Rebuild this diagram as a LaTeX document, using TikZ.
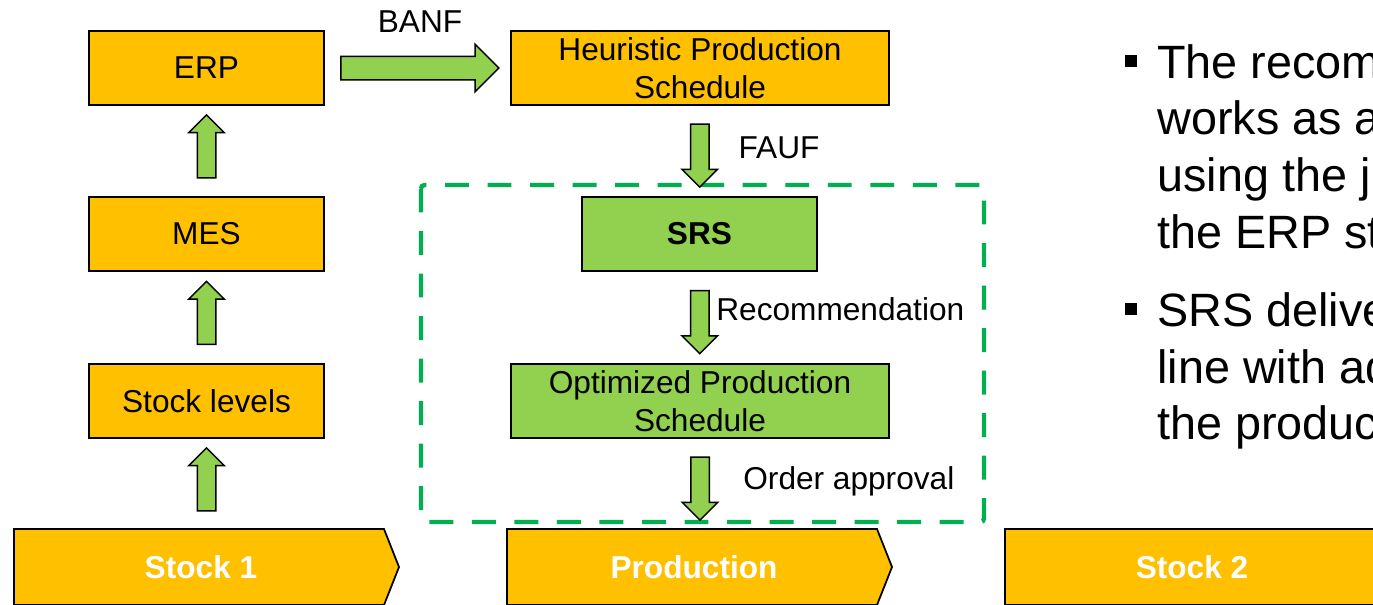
\documentclass[tikz,border=0pt]{standalone}
\usepackage{fontspec}
\setmainfont{Liberation Sans}
\usetikzlibrary{shapes.arrows}
\usetikzlibrary{calc}
\definecolor{boxorange}{HTML}{FFC000}
\definecolor{boxgreen}{HTML}{92D050}
\definecolor{framegreen}{HTML}{00B050}
\tikzset{
    box/.style={draw=black, line width=0.35mm, fill=boxorange, minimum width=4.7cm, minimum height=1.48cm, inner sep=0, align=center, font=\fontsize{18}{21.6}\selectfont},
    widebox/.style={box, minimum width=7.56cm},
    blockarrow/.style={single arrow, draw=black, line width=0.3mm, fill=boxgreen, inner xsep=0, inner ysep=0.17cm, minimum height=1.26cm, single arrow head extend=0.17cm, single arrow tip angle=90},
    chevron/.style={draw=black, line width=0.35mm, fill=boxorange},
    chevrontext/.style={text=white, font=\fontsize{18}{21.6}\selectfont\bfseries},
    lbl/.style={inner sep=0, font=\fontsize{18}{21.6}\selectfont},
    bullettext/.style={inner sep=0, align=left, anchor=north west, font=\fontsize{26.6}{32.3}\selectfont},
}
\newcommand{\drawchevron}[3]{
    \begin{scope}[shift={(#2)}]
        \draw [chevron] (0,0) -- (7.4,0) -- (7.7,-0.76) -- (7.4,-1.52) -- (0,-1.52) -- cycle;
        \coordinate (#1top) at (3.7,0);
        \node [chevrontext] (#1) at (3.74,-0.76) {#3};
    \end{scope}
}

\begin{document}
\begin{tikzpicture}
    \useasboundingbox (0,0) rectangle (27.46,-12.08);
    \clip (0,0) rectangle (27.46,-12.08);

    % left column
    \node [box] (erp) at (4.13,-1.36) {ERP};
    \node [box] (mes) at (4.13,-4.68) {MES};
    \node [box] (stocklevels) at (4.13,-8.02) {Stock levels};

    % middle column
    \node [widebox] (heuristic) at (14.0,-1.36) {Heuristic Production\\Schedule};
    \node [box, fill=boxgreen, font=\fontsize{18}{21.6}\selectfont\bfseries] (srs) at (13.99,-4.68) {SRS};
    \node [widebox, fill=boxgreen] (optimized) at (14.0,-8.02) {Optimized Production\\Schedule};
    \draw [framegreen, line width=2.5pt, dash pattern=on 13.6pt off 10.6pt, rounded corners=2pt] (8.42,-3.70) rectangle (19.68,-10.44);

    % process chevrons
    \drawchevron{stockone}{0.28,-10.58}{Stock 1};
    \drawchevron{production}{10.14,-10.58}{Production};
    \drawchevron{stocktwo}{20.1,-10.58}{Stock 2};

    % block arrows
    \node [blockarrow, rotate=90] (upone) at ($(stocklevels.south)!0.5!(stocklevels.south |- stockonetop)$) {};
    \node [blockarrow, rotate=90] (uptwo) at ($(stocklevels.north)!0.5!(mes.south)$) {};
    \node [blockarrow, rotate=90] (upthree) at ($(mes.north)!0.5!(erp.south)$) {};
    \node [blockarrow, inner ysep=0.22cm, minimum height=3.16cm, single arrow head extend=0.24cm] (banf) at ($(erp.east)!0.5!(heuristic.west)+(-0.07,0)$) {};
    \node [blockarrow, rotate=-90] (fauf) at ($(heuristic.south)!0.5!(srs.north)$) {};
    \node [blockarrow, rotate=-90] (recommend) at ($(srs.south)!0.5!(optimized.north)$) {};
    \node [blockarrow, rotate=-90] (approval) at ($(optimized.south)!0.5!(optimized.south |- productiontop)$) {};

    % arrow labels
    \node [lbl] (banftext) at (8.4,-0.44) {BANF};
    \node [lbl] (fauftext) at (15.58,-2.96) {FAUF};
    \node [lbl, anchor=west] (recommendtext) at (14.32,-6.18) {Recommendation};
    \node [lbl, anchor=west] (approvaltext) at (14.86,-9.62) {Order approval};

    % bullet points
    \fill (22.5,-1.1) rectangle ++(0.24,-0.24);
    \node [bullettext] (firstpoint) at (23.14,-0.88) {The recom\\works as a\\using the j\\the ERP st};
    \fill (22.5,-6.06) rectangle ++(0.24,-0.24);
    \node [bullettext] (secondpoint) at (23.14,-5.84) {SRS delive\\line with ad\\the produc};
\end{tikzpicture}
\end{document}
